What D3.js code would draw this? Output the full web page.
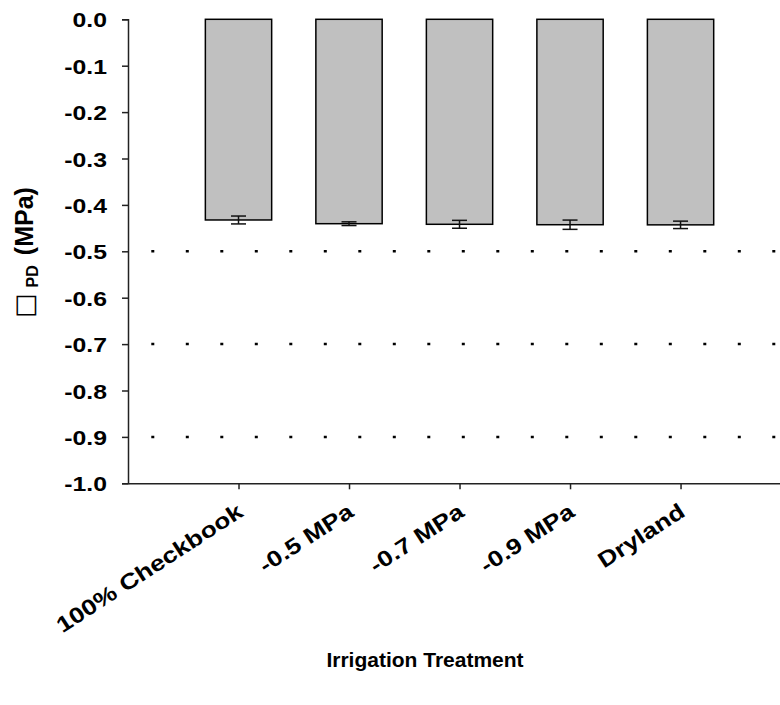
<!DOCTYPE html>
<html>
<head>
<meta charset="utf-8">
<script src="https://cdn.jsdelivr.net/npm/d3@7"></script>
<style>
	body { margin: 0; background: #fff; }
	text { font-family: "Liberation Sans", Arial, sans-serif; font-weight: bold; fill: #000; }
</style>
</head>
<body>
<svg id="chart" width="780" height="705"></svg>
<script>
// data
const categories = ["100% Checkbook", "-0.5 MPa", "-0.7 MPa", "-0.9 MPa", "Dryland"];
const means = [-0.4325, -0.4405, -0.4418, -0.4427, -0.443];
const errors = [0.0085, 0.004, 0.0085, 0.01, 0.008];
const yTicks = [0, -0.1, -0.2, -0.3, -0.4, -0.5, -0.6, -0.7, -0.8, -0.9, -1.0];
const refLines = [-0.5, -0.7, -0.9];

const svg = d3.select("#chart");
const plotLeft = 128, plotRight = 780, plotTop = 19.3, plotBottom = 483.3;

const x = d3.scaleLinear().domain([0, 5.9]).range([plotLeft, plotRight]);
const y = d3.scaleLinear().domain([-1, 0]).range([plotBottom, plotTop]);
const barW = 0.6;

// the original font is drawn a bit wider than Arial
function stretch(sel, k) {
	sel.each(function () {
		const w = this.getComputedTextLength();
		d3.select(this).attr("textLength", w * k).attr("lengthAdjust", "spacingAndGlyphs");
	});
}

// dotted reference lines
svg.append("g")
	.selectAll("line")
	.data(refLines)
	.enter()
	.append("line")
	.attr("x1", 151.3)
	.attr("x2", plotRight)
	.attr("y1", d => y(d))
	.attr("y2", d => y(d))
	.style("stroke", "#000")
	.style("stroke-width", 2.5)
	.style("stroke-dasharray", "3,31.5");

// bars
svg.append("g")
	.selectAll("rect")
	.data(means)
	.enter()
	.append("rect")
	.attr("x", (d, i) => x(i + 1 - barW / 2))
	.attr("y", y(0))
	.attr("width", x(barW) - x(0))
	.attr("height", d => y(d) - y(0))
	.style("fill", "#c0c0c0")
	.style("stroke", "#000")
	.style("stroke-width", 1.5);

// error bars
const eb = svg.append("g")
	.selectAll("g")
	.data(means)
	.enter()
	.append("g")
	.style("stroke", "#111")
	.style("stroke-width", 1.5);
eb.append("line")
	.attr("x1", (d, i) => x(i + 1))
	.attr("x2", (d, i) => x(i + 1))
	.attr("y1", (d, i) => y(d + errors[i]))
	.attr("y2", (d, i) => y(d - errors[i]));
eb.append("line")
	.attr("x1", (d, i) => x(i + 1) - 7.5)
	.attr("x2", (d, i) => x(i + 1) + 7.5)
	.attr("y1", (d, i) => y(d + errors[i]))
	.attr("y2", (d, i) => y(d + errors[i]));
eb.append("line")
	.attr("x1", (d, i) => x(i + 1) - 7.5)
	.attr("x2", (d, i) => x(i + 1) + 7.5)
	.attr("y1", (d, i) => y(d - errors[i]))
	.attr("y2", (d, i) => y(d - errors[i]));

// y axis
const yAxis = svg.append("g")
	.attr("transform", "translate(" + plotLeft + ",0)")
	.call(d3.axisLeft(y).tickValues(yTicks).tickFormat(d => d.toFixed(1)).tickSize(6).tickPadding(15));
yAxis.select(".domain").style("stroke", "#222").style("stroke-width", 1.5);
yAxis.selectAll(".tick line").style("stroke", "#222").style("stroke-width", 1.5);
yAxis.selectAll("text")
	.style("font-size", "21px")
	.style("font-family", "'Liberation Sans', Arial, sans-serif")
	.style("font-weight", "bold")
	.attr("dy", "0.36em")
	.call(stretch, 1.18);

// x axis
const xAxis = svg.append("g")
	.attr("transform", "translate(0," + plotBottom + ")")
	.call(d3.axisBottom(x).tickValues([1, 2, 3, 4, 5]).tickSize(6).tickSizeOuter(0).tickFormat(""));
xAxis.select(".domain").style("stroke", "#222").style("stroke-width", 1.5);
xAxis.selectAll(".tick line").style("stroke", "#222").style("stroke-width", 1.5);

svg.append("g")
	.selectAll("text")
	.data(categories)
	.enter()
	.append("text")
	.attr("text-anchor", "end")
	.attr("transform", (d, i) => "translate(" + (x(i + 1) + 6) + "," + (plotBottom + 32) + ") rotate(-33)")
	.style("font-size", "22px")
	.text(d => d)
	.call(stretch, 1.2);

// axis titles
svg.append("text")
	.attr("x", 425)
	.attr("y", 667)
	.attr("text-anchor", "middle")
	.style("font-size", "21px")
	.text("Irrigation Treatment");

const yl = svg.append("text")
	.attr("transform", "translate(33,318) rotate(-90)")
	.attr("text-anchor", "start")
	.style("font-size", "25px");
yl.append("tspan")
	.style("font-weight", "normal")
	.style("font-family", "'DejaVu Sans', sans-serif")
	.style("font-size", "26px")
	.style("fill", "#000")
	.text("\u25A1");
yl.append("tspan").attr("dx", 6).attr("dy", 5).style("font-size", "16px").text("PD");
yl.append("tspan").attr("dx", 10).attr("dy", -5).text("(MPa)");
</script>
</body>
</html>
